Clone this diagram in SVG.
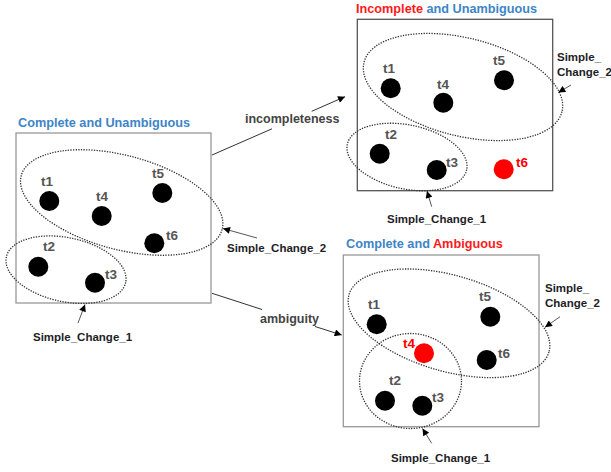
<svg xmlns="http://www.w3.org/2000/svg" width="611" height="472" viewBox="0 0 611 472">
<defs>
<style>
.bg{fill:#fff}
.box{fill:#fff;stroke:#999;stroke-width:1.3}
.boxd{fill:#fff;stroke:#555;stroke-width:1.3}
.grp{fill:none;stroke:#333;stroke-width:1.3;stroke-dasharray:1.3 1.3}
.dot{fill:#000}
.red{fill:#ff0000}
.lbl{font-family:"Liberation Sans",Arial,sans-serif;font-weight:bold;font-size:13.5px;fill:#555;text-anchor:middle}
.lblr{font-family:"Liberation Sans",Arial,sans-serif;font-weight:bold;font-size:13.5px;fill:#ff0000;text-anchor:middle}
.title{font-family:"Liberation Sans",Arial,sans-serif;font-weight:bold;font-size:12.7px}
.blue{fill:#3d85c8}
.redt{fill:#ff1a1a}
.ann{font-family:"Liberation Sans",Arial,sans-serif;font-weight:bold;font-size:11.5px;fill:#1e1e28}
.conn{font-family:"Liberation Sans",Arial,sans-serif;font-weight:bold;font-size:12.5px;fill:#444}
.ln{stroke:#333;stroke-width:1;fill:none}
.aln{stroke:#444;stroke-width:0.9;fill:none}
</style>
<marker id="ah" viewBox="0 0 10 10" refX="10" refY="5" markerWidth="8" markerHeight="7" markerUnits="userSpaceOnUse" orient="auto">
<path d="M0,0 L10,5 L0,10 z" fill="#000"/>
</marker>
</defs>
<rect class="bg" x="0" y="0" width="611" height="472"/>

<g id="connectors">
<line class="ln" x1="212" y1="155" x2="272" y2="128.8"/>
<line class="ln" x1="311.7" y1="111.3" x2="345" y2="96.7" marker-end="url(#ah)"/>
<text class="conn" x="245" y="123">incompleteness</text>
<line class="ln" x1="212" y1="293.3" x2="262" y2="309.5"/>
<line class="ln" x1="315" y1="326.5" x2="341.7" y2="335" marker-end="url(#ah)"/>
<text class="conn" x="260" y="323">ambiguity</text>
</g>

<g id="state-complete-unambiguous">
<text class="title blue" x="18" y="127">Complete and Unambiguous</text>
<rect class="box" x="16" y="133" width="195" height="170"/>
<ellipse class="grp" cx="121.7" cy="202.5" rx="104" ry="47" transform="rotate(15 121.7 202.5)"/>
<ellipse class="grp" cx="66" cy="269.7" rx="61" ry="32" transform="rotate(12 66 269.7)"/>
<circle class="dot" cx="49.3" cy="201" r="10"/><text class="lbl" x="47" y="185.5">t1</text>
<circle class="dot" cx="101.7" cy="216" r="10"/><text class="lbl" x="102" y="201">t4</text>
<circle class="dot" cx="162.3" cy="193" r="10"/><text class="lbl" x="158" y="177.5">t5</text>
<circle class="dot" cx="154.3" cy="243.3" r="10"/><text class="lbl" x="172" y="239.5">t6</text>
<circle class="dot" cx="38.3" cy="266.7" r="10"/><text class="lbl" x="49" y="251">t2</text>
<circle class="dot" cx="95" cy="282.7" r="10"/><text class="lbl" x="111" y="279">t3</text>
<line class="aln" x1="257" y1="238" x2="223" y2="228.5" marker-end="url(#ah)"/>
<text class="ann" x="227" y="252">Simple_Change_2</text>
<line class="aln" x1="78" y1="323" x2="85" y2="304.5" marker-end="url(#ah)"/>
<text class="ann" x="33" y="341">Simple_Change_1</text>
</g>

<g id="state-incomplete-unambiguous">
<text class="title" x="356" y="13"><tspan class="redt">Incomplete</tspan><tspan class="blue"> and Unambiguous</tspan></text>
<rect class="boxd" x="357.3" y="19.3" width="195.4" height="171.4"/>
<ellipse class="grp" cx="463" cy="87" rx="102" ry="49" transform="rotate(14 463 87)"/>
<ellipse class="grp" cx="407" cy="157" rx="61" ry="32" transform="rotate(12 407 157)"/>
<circle class="dot" cx="390.7" cy="88.3" r="10"/><text class="lbl" x="389" y="73.3">t1</text>
<circle class="dot" cx="443.3" cy="102.7" r="10"/><text class="lbl" x="443" y="88.5">t4</text>
<circle class="dot" cx="504" cy="80.3" r="10"/><text class="lbl" x="499" y="65">t5</text>
<circle class="dot" cx="379.7" cy="153.7" r="10"/><text class="lbl" x="391" y="138.5">t2</text>
<circle class="dot" cx="436.7" cy="170" r="10"/><text class="lbl" x="452" y="167">t3</text>
<circle class="red" cx="503.7" cy="169.3" r="10"/><text class="lblr" x="522" y="166.5">t6</text>
<line class="aln" x1="571" y1="85" x2="558.3" y2="92.5" marker-end="url(#ah)"/>
<text class="ann" x="557" y="61">Simple_</text>
<text class="ann" x="557" y="76">Change_2</text>
<line class="aln" x1="431.7" y1="206.7" x2="427" y2="191" marker-end="url(#ah)"/>
<text class="ann" x="387" y="222.7">Simple_Change_1</text>
</g>

<g id="state-complete-ambiguous">
<text class="title" x="346" y="248"><tspan class="blue">Complete and </tspan><tspan class="redt">Ambiguous</tspan></text>
<rect class="box" x="343.3" y="255" width="195.7" height="171.7"/>
<ellipse class="grp" cx="449" cy="323.3" rx="104" ry="48" transform="rotate(16 449 323.3)"/>
<ellipse class="grp" cx="410.5" cy="381" rx="51" ry="47.5"/>
<circle class="dot" cx="376.7" cy="324.3" r="10"/><text class="lbl" x="374" y="309">t1</text>
<circle class="dot" cx="490.3" cy="316.7" r="10"/><text class="lbl" x="485" y="300.5">t5</text>
<circle class="red" cx="424" cy="353.3" r="10"/><text class="lblr" x="409" y="347.5">t4</text>
<circle class="dot" cx="486.7" cy="360" r="10"/><text class="lbl" x="504" y="357.5">t6</text>
<circle class="dot" cx="385" cy="400.7" r="10"/><text class="lbl" x="395" y="385">t2</text>
<circle class="dot" cx="422.3" cy="405.7" r="10"/><text class="lbl" x="438" y="401.5">t3</text>
<line class="aln" x1="560" y1="316.7" x2="545" y2="327.3" marker-end="url(#ah)"/>
<text class="ann" x="545" y="291.7">Simple_</text>
<text class="ann" x="545" y="306.7">Change_2</text>
<line class="aln" x1="431.7" y1="443.3" x2="422.5" y2="428.5" marker-end="url(#ah)"/>
<text class="ann" x="391" y="461.7">Simple_Change_1</text>
</g>
</svg>
